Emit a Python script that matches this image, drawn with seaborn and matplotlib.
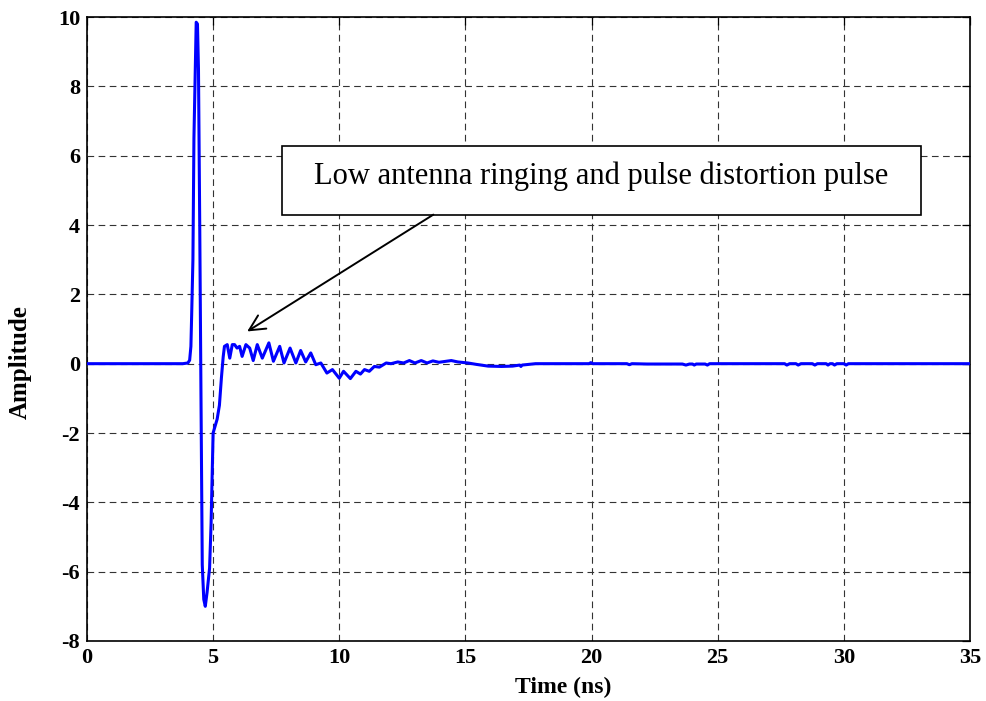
import numpy as np
import pandas as pd
import matplotlib
matplotlib.use("Agg")
import matplotlib.pyplot as plt
from matplotlib.patches import Rectangle
import seaborn as sns

# ---- data ----
time_ns = [0.0, 3.8, 4.0, 4.07, 4.12, 4.15, 4.2, 4.24, 4.33, 4.38, 4.42, 4.47, 4.52,
           4.57, 4.63, 4.69, 4.76, 4.86, 4.92, 5.0, 5.08, 5.16, 5.25, 5.33, 5.40,
           5.45, 5.56, 5.66, 5.76, 5.85, 5.95, 6.05, 6.15, 6.3, 6.45, 6.59, 6.75,
           6.95, 7.21, 7.39, 7.64, 7.81, 8.05, 8.28, 8.47, 8.67, 8.87, 9.07, 9.27,
           9.51, 9.73, 10.0, 10.17, 10.44, 10.66, 10.84, 11.0, 11.19, 11.39, 11.59,
           11.86, 12.05, 12.32, 12.55, 12.78, 13.0, 13.25, 13.48, 13.71, 13.95,
           14.44, 14.7, 15.1, 15.43, 15.9, 16.43, 16.87, 17.15, 17.2, 17.25, 17.78,
           19.9, 19.97, 20.05, 21.4, 21.5, 21.6, 22.2, 23.6, 23.74, 23.88, 24.0,
           24.07, 24.15, 24.5, 24.59, 24.68, 25.0, 27.65, 27.74, 27.85, 28.1, 28.19,
           28.3, 28.75, 28.85, 28.95, 29.3, 29.37, 29.45, 29.55, 29.63, 29.72,
           30.0, 30.09, 30.18, 35.0]
amplitude = [0.0, 0.0, 0.02, 0.1, 0.5, 1.4, 3.0, 6.5, 9.85, 9.8, 8.5, 4.0, -1.0,
             -5.8, -6.8, -7.0, -6.6, -5.9, -4.6, -2.0, -1.8, -1.6, -1.2, -0.4, 0.2,
             0.5, 0.55, 0.16, 0.55, 0.55, 0.45, 0.5, 0.21, 0.55, 0.45, 0.09, 0.55,
             0.16, 0.6, 0.07, 0.5, 0.02, 0.45, 0.02, 0.38, 0.05, 0.31, -0.03, 0.02,
             -0.27, -0.17, -0.42, -0.22, -0.43, -0.22, -0.3, -0.17, -0.22, -0.08,
             -0.1, 0.02, 0.0, 0.05, 0.02, 0.09, 0.02, 0.09, 0.02, 0.08, 0.04,
             0.09, 0.05, 0.02, -0.02, -0.07, -0.08, -0.07, -0.04, -0.08, -0.04, 0.0,
             0.0, 0.03, 0.0, 0.0, -0.03, 0.0, -0.01, -0.01, -0.04, -0.01, -0.01,
             -0.04, -0.01, -0.01, -0.04, 0.0, 0.0, 0.0, -0.04, 0.0, 0.0, -0.04,
             0.0, 0.0, -0.04, 0.0, 0.0, -0.04, 0.0, 0.0, -0.04, 0.0,
             0.0, -0.04, 0.0, 0.0]

x_ticks = [0, 5, 10, 15, 20, 25, 30, 35]
y_ticks = [-8, -6, -4, -2, 0, 2, 4, 6, 8, 10]
annotation_text = "Low antenna ringing and pulse distortion pulse"
x_label = "Time (ns)"
y_label = "Amplitude"

df = pd.DataFrame({"t": time_ns, "a": amplitude})

sns.set_style("white")
plt.rcParams["font.family"] = ["Liberation Serif", "DejaVu Serif"]
plt.rcParams["text.color"] = "black"
plt.rcParams["axes.labelcolor"] = "black"

fig = plt.figure(figsize=(9.87, 7.01), dpi=100)
ax = fig.add_axes([0.0881, 0.0856, 0.8947, 0.8901])

sns.lineplot(data=df, x="t", y="a", sort=False, estimator=None,
             color="#0000ff", linewidth=2.2, ax=ax, zorder=3)

ax.set_xlim(0, 35)
ax.set_ylim(-8, 10)
ax.set_xticks(x_ticks)
ax.set_yticks(y_ticks)
ax.set_xticklabels([str(v) for v in x_ticks], fontsize=16, fontweight="bold")
ax.set_yticklabels([str(v) for v in y_ticks], fontsize=16, fontweight="bold")
ax.tick_params(direction="in", length=6, width=0.9, top=True, right=True,
               colors="black", labelcolor="black", pad=5)
ax.grid(True, linestyle=(0, (6, 4)), color="0.2", linewidth=0.8)
for s in ax.spines.values():
    s.set_color("black")
    s.set_linewidth(1.2)

ax.set_xlabel(x_label, fontsize=17, fontweight="bold", color="black")
ax.set_ylabel(y_label, fontsize=18, fontweight="bold", color="black")
ax.xaxis.set_label_coords(0.539, -0.057)
ax.yaxis.set_label_coords(-0.062, 0.447)

# annotation box and arrow
ax.add_patch(Rectangle((7.73, 4.3), 33.04 - 7.73, 6.28 - 4.3, facecolor="white",
                       edgecolor="black", linewidth=1.2, zorder=4))
ax.text(20.37, 5.18, annotation_text, ha="center", va="baseline", fontsize=22,
        color="black", zorder=5)
ax.annotate("", xy=(6.35, 0.93), xytext=(13.73, 4.3),
            arrowprops=dict(arrowstyle="->", color="black", lw=1.4,
                            mutation_scale=28, shrinkA=0, shrinkB=0),
            zorder=5)

fig.savefig("out.png", dpi=100)
